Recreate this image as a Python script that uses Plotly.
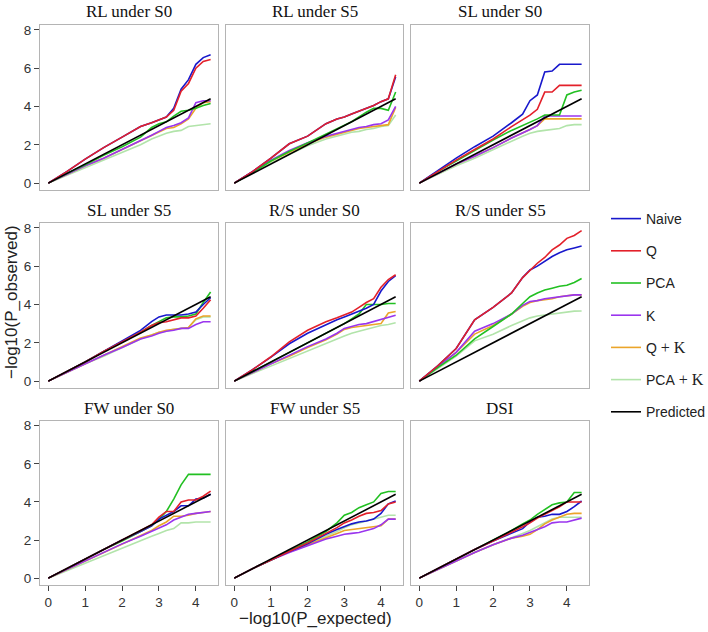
import plotly.graph_objects as go

# ---------------- data ----------------
X_EXP = [0, 0.5, 1, 1.5, 2, 2.5, 2.8, 3.0, 3.2, 3.4, 3.6, 3.8, 4.0, 4.2, 4.4]
PRED_X = [0, 4.4]
PRED_Y = [0, 4.4]

SERIES = ["Naive", "Q", "PCA", "K", "Q + K", "PCA + K"]
LEGEND_TEXT = ["Naive", "Q", "PCA", "K",
               "Q <span style='font-family:Liberation Serif;font-size:16px'>+ K</span>",
               "PCA<span style='font-family:Liberation Serif;font-size:16px'> + K</span>"]
PANEL_TITLES = ["RL under S0", "RL under S5", "SL under S0",
                "SL under S5", "R/S under S0", "R/S under S5",
                "FW under S0", "FW under S5", "DSI"]

# order in each panel: Naive, Q, PCA, K, Q+K, PCA+K
RL_S0 = [
    [0, 0.6, 1.25, 1.85, 2.4, 2.95, 3.15, 3.3, 3.45, 3.9, 4.9, 5.4, 6.2, 6.55, 6.7],
    [0, 0.6, 1.25, 1.85, 2.4, 2.95, 3.15, 3.3, 3.45, 3.8, 4.8, 5.2, 6.0, 6.35, 6.45],
    [0, 0.5, 0.95, 1.45, 1.9, 2.4, 2.9, 3.1, 3.2, 3.5, 3.75, 3.8, 3.9, 4.05, 4.15],
    [0, 0.45, 0.9, 1.3, 1.75, 2.2, 2.5, 2.7, 2.9, 3.0, 3.15, 3.4, 4.2, 4.3, 4.3],
    [0, 0.45, 0.9, 1.3, 1.75, 2.2, 2.45, 2.65, 2.85, 2.9, 3.1, 3.35, 3.9, 4.2, 4.25],
    [0, 0.4, 0.8, 1.2, 1.6, 2.0, 2.3, 2.45, 2.6, 2.7, 2.75, 2.95, 3.0, 3.05, 3.1],
]
RL_S5 = [
    [0, 0.6, 1.3, 2.05, 2.45, 3.1, 3.35, 3.45, 3.6, 3.75, 3.9, 4.05, 4.25, 4.4, 5.55],
    [0, 0.6, 1.3, 2.05, 2.45, 3.1, 3.35, 3.45, 3.6, 3.75, 3.9, 4.05, 4.25, 4.4, 5.65],
    [0, 0.55, 1.15, 1.65, 2.1, 2.55, 2.8, 3.0, 3.2, 3.45, 3.7, 3.9, 3.9, 3.8, 4.75],
    [0, 0.6, 1.2, 1.7, 2.1, 2.45, 2.6, 2.7, 2.8, 2.9, 2.95, 3.05, 3.1, 3.3, 4.0],
    [0, 0.6, 1.15, 1.6, 2.05, 2.4, 2.55, 2.65, 2.75, 2.85, 2.9, 2.95, 3.0, 3.05, 3.95],
    [0, 0.55, 1.05, 1.5, 1.95, 2.3, 2.45, 2.55, 2.65, 2.7, 2.8, 2.85, 2.95, 3.0, 3.55],
]
SL_S0 = [
    [0, 0.65, 1.3, 1.9, 2.45, 3.15, 3.6, 4.3, 4.6, 5.8, 5.85, 6.2, 6.2, 6.2, 6.2],
    [0, 0.6, 1.2, 1.75, 2.3, 2.95, 3.3, 3.55, 3.85, 4.75, 4.75, 5.1, 5.1, 5.1, 5.1],
    [0, 0.6, 1.15, 1.7, 2.25, 2.75, 3.0, 3.2, 3.35, 3.55, 3.55, 3.55, 4.6, 4.75, 4.85],
    [0, 0.5, 1.0, 1.4, 1.85, 2.35, 2.6, 2.8, 3.0, 3.5, 3.5, 3.5, 3.5, 3.5, 3.5],
    [0, 0.5, 1.0, 1.4, 1.85, 2.35, 2.6, 2.8, 3.0, 3.35, 3.35, 3.35, 3.35, 3.35, 3.35],
    [0, 0.45, 0.9, 1.3, 1.75, 2.2, 2.45, 2.6, 2.7, 2.75, 2.8, 2.85, 3.0, 3.05, 3.05],
]
SL_S5 = [
    [0, 0.5, 1.0, 1.55, 2.1, 2.65, 3.1, 3.35, 3.45, 3.45, 3.45, 3.5, 3.6, 4.0, 4.35],
    [0, 0.5, 1.0, 1.55, 2.05, 2.55, 2.9, 3.05, 3.1, 3.2, 3.3, 3.3, 3.4, 3.8, 4.25],
    [0, 0.5, 1.0, 1.55, 2.05, 2.55, 2.9, 3.1, 3.3, 3.35, 3.35, 3.4, 3.5, 4.1, 4.65],
    [0, 0.45, 0.9, 1.35, 1.75, 2.2, 2.35, 2.5, 2.6, 2.65, 2.75, 2.75, 2.95, 3.1, 3.1],
    [0, 0.45, 0.9, 1.35, 1.8, 2.25, 2.4, 2.55, 2.65, 2.7, 2.75, 2.8, 3.25, 3.4, 3.4],
    [0, 0.45, 0.9, 1.3, 1.75, 2.2, 2.4, 2.55, 2.6, 2.7, 2.75, 2.8, 3.2, 3.35, 3.35],
]
RS_S0 = [
    [0, 0.6, 1.25, 1.95, 2.5, 2.95, 3.2, 3.35, 3.5, 3.65, 3.8, 4.0, 4.7, 5.2, 5.5],
    [0, 0.6, 1.27, 2.05, 2.65, 3.1, 3.3, 3.45, 3.6, 3.85, 4.1, 4.3, 4.9, 5.3, 5.55],
    [0, 0.5, 1.0, 1.5, 2.0, 2.5, 2.8, 3.0, 3.25, 3.5, 4.0, 4.0, 4.0, 4.05, 4.05],
    [0, 0.45, 0.9, 1.35, 1.8, 2.2, 2.5, 2.75, 2.85, 2.95, 3.0, 3.1, 3.2, 3.3, 3.44],
    [0, 0.45, 0.9, 1.3, 1.75, 2.15, 2.45, 2.7, 2.8, 2.85, 2.9, 2.95, 3.0, 3.55, 3.63],
    [0, 0.4, 0.8, 1.2, 1.6, 2.0, 2.2, 2.35, 2.5, 2.6, 2.7, 2.8, 2.9, 2.95, 3.04],
]
RS_S5 = [
    [0, 0.8, 1.7, 3.2, 3.85, 4.6, 5.4, 5.8, 6.0, 6.25, 6.5, 6.7, 6.85, 6.95, 7.05],
    [0, 0.8, 1.7, 3.2, 3.85, 4.6, 5.4, 5.8, 6.15, 6.45, 6.85, 7.1, 7.45, 7.6, 7.85],
    [0, 0.7, 1.35, 2.2, 2.85, 3.5, 4.05, 4.4, 4.6, 4.75, 4.85, 4.95, 5.0, 5.15, 5.35],
    [0, 0.75, 1.5, 2.6, 3.0, 3.5, 3.95, 4.15, 4.2, 4.3, 4.35, 4.4, 4.45, 4.5, 4.5],
    [0, 0.75, 1.5, 2.45, 2.9, 3.5, 3.9, 4.1, 4.2, 4.25, 4.3, 4.4, 4.45, 4.5, 4.5],
    [0, 0.65, 1.3, 2.1, 2.45, 2.9, 3.15, 3.3, 3.4, 3.45, 3.5, 3.55, 3.6, 3.65, 3.66],
]
FW_S0 = [
    [0, 0.5, 1.0, 1.5, 2.0, 2.45, 2.75, 3.1, 3.3, 3.5, 3.8, 3.8, 4.15, 4.2, 4.4],
    [0, 0.5, 1.0, 1.5, 2.0, 2.5, 2.8, 3.2, 3.5, 3.5, 4.0, 4.1, 4.1, 4.3, 4.57],
    [0, 0.5, 1.0, 1.5, 1.95, 2.45, 2.75, 3.1, 3.5, 4.15, 4.9, 5.45, 5.45, 5.45, 5.45],
    [0, 0.45, 0.9, 1.35, 1.8, 2.2, 2.45, 2.6, 2.8, 3.05, 3.2, 3.35, 3.4, 3.45, 3.5],
    [0, 0.45, 0.9, 1.35, 1.8, 2.25, 2.5, 2.75, 2.95, 3.25, 3.25, 3.3, 3.4, 3.45, 3.5],
    [0, 0.4, 0.8, 1.2, 1.6, 2.0, 2.2, 2.35, 2.5, 2.6, 2.9, 2.9, 2.95, 2.95, 2.95],
]
FW_S5 = [
    [0, 0.5, 0.95, 1.4, 1.8, 2.3, 2.55, 2.7, 2.85, 2.95, 3.0, 3.1, 3.4, 3.9, 4.05],
    [0, 0.5, 0.95, 1.4, 1.85, 2.35, 2.65, 2.9, 3.05, 3.25, 3.4, 3.45, 3.55, 3.9, 4.0],
    [0, 0.5, 0.95, 1.45, 1.9, 2.45, 2.9, 3.3, 3.45, 3.7, 3.85, 4.0, 4.45, 4.55, 4.55],
    [0, 0.5, 0.95, 1.35, 1.7, 2.05, 2.2, 2.3, 2.35, 2.4, 2.5, 2.6, 2.8, 3.1, 3.1],
    [0, 0.5, 0.95, 1.4, 1.75, 2.15, 2.35, 2.5, 2.55, 2.6, 2.65, 2.7, 2.75, 3.1, 3.1],
    [0, 0.5, 0.95, 1.4, 1.8, 2.2, 2.45, 2.65, 2.8, 2.9, 3.0, 3.1, 3.2, 3.3, 3.3],
]
DSI = [
    [0, 0.5, 1.0, 1.5, 1.95, 2.35, 2.6, 2.95, 3.2, 3.25, 3.35, 3.35, 3.5, 3.75, 4.05],
    [0, 0.5, 1.0, 1.5, 1.95, 2.4, 2.7, 2.9, 3.15, 3.35, 3.55, 3.75, 4.0, 4.0, 4.0],
    [0, 0.5, 1.0, 1.5, 2.0, 2.5, 2.85, 3.05, 3.35, 3.6, 3.85, 3.95, 4.0, 4.5, 4.5],
    [0, 0.45, 0.9, 1.35, 1.75, 2.1, 2.25, 2.4, 2.55, 2.7, 2.9, 2.95, 2.95, 3.05, 3.15],
    [0, 0.45, 0.9, 1.35, 1.75, 2.1, 2.2, 2.3, 2.55, 2.85, 3.05, 3.2, 3.35, 3.4, 3.4],
    [0, 0.45, 0.9, 1.35, 1.75, 2.15, 2.35, 2.5, 2.7, 2.9, 3.1, 3.2, 3.2, 3.2, 3.2],
]
PANELS = [RL_S0, RL_S5, SL_S0, SL_S5, RS_S0, RS_S5, FW_S0, FW_S5, DSI]

X_TICKS = [0, 1, 2, 3, 4]
Y_TICKS = [0, 2, 4, 6, 8]

# ---------------- styling ----------------
COLORS = ["#1818cc", "#e3202a", "#22c022", "#9a35ee", "#eba52a", "#b2e4aa"]
DRAW_ORDER = [5, 4, 3, 2, 0, 1]
W, H = 708, 632
COL_PX = [(40, 218), (226, 403), (411, 589)]
ROW_PX = [(25, 190), (223, 388), (421, 585)]
XR = [-0.225, 4.6]
YR = [-0.36, 8.25]
SANS = "Liberation Sans, Arial, sans-serif"
SERIF = "Liberation Serif, Times New Roman, serif"

fig = go.Figure()
layout = dict(width=W, height=H, margin=dict(l=0, r=0, t=0, b=0, autoexpand=False),
              paper_bgcolor="white", plot_bgcolor="white", showlegend=True)
annotations = []

for p in range(9):
    r, c = divmod(p, 3)
    n = p + 1
    xa = "x" if n == 1 else f"x{n}"
    ya = "y" if n == 1 else f"y{n}"
    x0, x1 = COL_PX[c]
    y0, y1 = ROW_PX[r]
    layout["xaxis" if n == 1 else f"xaxis{n}"] = dict(
        domain=[x0 / W, x1 / W], range=XR, anchor=ya,
        showgrid=False, zeroline=False, showline=True, mirror=True,
        linecolor="#b4b4b4", linewidth=1,
        tickvals=X_TICKS, showticklabels=(r == 2),
        ticks="outside" if r == 2 else "", ticklen=5, tickwidth=1, tickcolor="#444",
        tickfont=dict(family=SANS, size=13.5, color="#333"),
    )
    layout["yaxis" if n == 1 else f"yaxis{n}"] = dict(
        domain=[1 - y1 / H, 1 - y0 / H], range=YR, anchor=xa,
        showgrid=False, zeroline=False, showline=True, mirror=True,
        linecolor="#b4b4b4", linewidth=1,
        tickvals=Y_TICKS, showticklabels=(c == 0),
        ticks="outside" if c == 0 else "", ticklen=5, tickwidth=1, tickcolor="#444",
        tickfont=dict(family=SANS, size=13.5, color="#333"),
    )
    data = PANELS[p]
    for s in DRAW_ORDER:
        fig.add_trace(go.Scatter(
            x=X_EXP, y=data[s], mode="lines", xaxis=xa, yaxis=ya,
            line=dict(color=COLORS[s], width=1.6),
            name=LEGEND_TEXT[s], legendgroup=SERIES[s], legendrank=s + 1,
            showlegend=(p == 0), hoverinfo="skip"))
    fig.add_trace(go.Scatter(
        x=PRED_X, y=PRED_Y, mode="lines", xaxis=xa, yaxis=ya,
        line=dict(color="black", width=1.6),
        name="Predicted", legendgroup="Predicted", legendrank=7,
        showlegend=(p == 0), hoverinfo="skip"))
    annotations.append(dict(
        text=PANEL_TITLES[p], xref="paper", yref="paper",
        x=(x0 + x1) / 2 / W, y=1 - (y0 - 13) / H, xanchor="center", yanchor="middle",
        showarrow=False, font=dict(family=SERIF, size=17, color="#111")))

annotations.append(dict(
    text="\u2212log10(P_expected)", xref="paper", yref="paper",
    x=315 / W, y=1 - 618 / H, xanchor="center", yanchor="middle",
    showarrow=False, font=dict(family=SANS, size=17, color="#222")))
annotations.append(dict(
    text="\u2212log10(P_observed)", xref="paper", yref="paper",
    x=11 / W, y=1 - 302 / H, xanchor="center", yanchor="middle", textangle=-90,
    showarrow=False, font=dict(family=SANS, size=17, color="#222")))

layout["annotations"] = annotations
layout["legend"] = dict(
    x=606 / W, y=1 - 203 / H, xanchor="left", yanchor="top",
    font=dict(family=SANS, size=14, color="#222"),
    tracegroupgap=11, bgcolor="rgba(0,0,0,0)", itemwidth=30)
fig.update_layout(**layout)
fig.write_html(
    "out.html",
    config={"displayModeBar": False, "staticPlot": True},
    post_script="document.body.style.margin='0';document.body.style.padding='0';"
                "window.dispatchEvent(new Event('resize'));")
